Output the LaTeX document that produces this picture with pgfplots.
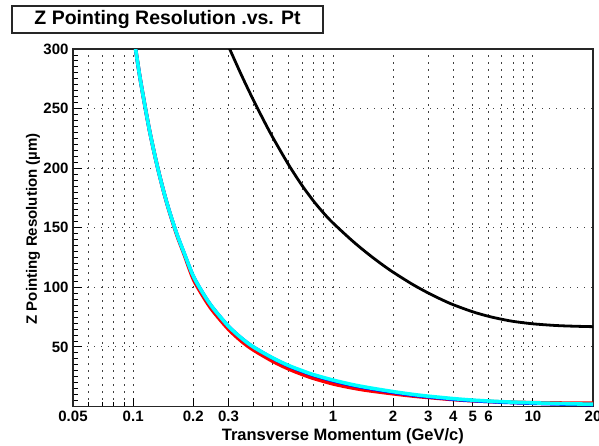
\documentclass[border=0pt]{standalone}
\usepackage{pgfplots}
\pgfplotsset{compat=1.18}
\usepackage{pgfplotstable}
\usepackage{fontspec}
\setmainfont{Liberation Sans}
\definecolor{rcyan}{RGB}{0,255,255}
\definecolor{rred}{RGB}{255,0,0}
\definecolor{rblue}{RGB}{0,0,255}

\pgfplotstableread{
x y
0.28 313.8
0.3 302.2
0.35 277.3
0.4 257.0
0.45 240.1
0.5 225.7
0.6 202.8
0.7 185.5
0.8 172.3
0.9 162.1
1 154
1.25 139
1.5 128
1.75 119.5
2 112.7
2.5 102.5
3 95.2
3.5 89.7
4 85.4
5 79.5
6 75.7
7 73.2
8 71.4
10 69.4
13 68.0
16 67.4
20 67.0
}\blackdata

\pgfplotstableread{
x y
0.095 342.4
0.1 314.2
0.105 289.9
0.11 268.8
0.12 233.9
0.13 206.6
0.14 184.6
0.15 166.3
0.165 144.5
0.18 127.6
0.2 106.9
0.225 91.8
0.25 80.4
0.3 64.8
0.35 54.5
0.4 47.4
0.5 37.9
0.6 31.5
0.7 27.0
0.8 23.6
1 19.0
1.25 15.6
1.5 13.4
2 10.7
2.5 8.82
3 7.59
4 5.86
5 4.87
7 3.84
10 3.22
15 2.87
20 2.86
}\reddata

\pgfplotstableread{
x y
0.095 342.4
0.1 314.2
0.105 289.9
0.11 268.8
0.12 233.9
0.13 206.6
0.14 184.6
0.15 166.7
0.165 145.3
0.18 128.7
0.2 109.4
0.225 94.3
0.25 83.0
0.3 67.3
0.35 57.1
0.4 49.9
0.5 40.5
0.6 34.0
0.7 29.6
0.8 26.2
1 21.6
1.25 17.8
1.5 15.3
2 11.9
2.5 9.6
3 8.1
4 6.1
5 4.9
7 3.6
10 2.7
15 1.9
20 1.5
}\bluedata

\pgfplotstableread{
x y
0.095 342.4
0.1 314.2
0.105 289.9
0.11 268.8
0.12 233.9
0.13 206.6
0.14 184.6
0.15 166.7
0.165 145.3
0.18 128.7
0.2 109.4
0.225 94.3
0.25 83.0
0.3 67.3
0.35 57.1
0.4 49.9
0.5 40.7
0.6 34.4
0.7 30.1
0.8 26.7
1 22.2
1.25 18.4
1.5 15.9
2 12.5
2.5 10.2
3 8.67
4 6.64
5 5.38
7 4.05
10 3.11
15 2.32
20 1.92
}\cyandata

\begin{document}
\begin{tikzpicture}
\begin{semilogxaxis}[
  scale only axis, width=520pt, height=357.5pt,
  xmin=0.05, xmax=20, ymin=0, ymax=300,
  clip mode=individual,
  axis line style={line width=1.3pt, black!85},
  xtick={0.05,0.1,0.2,0.3,1,2,3,4,5,6,10,20},
  xticklabels={0.05,0.1,0.2,0.3,1,2,3,4,5,6,10,20},
  minor xtick={0.06,0.07,0.08,0.09,0.4,0.5,0.6,0.7,0.8,0.9,7,8,9},
  ytick={50,100,150,200,250,300},
  minor ytick={5,10,...,295},
  tick align=inside,
  xtick pos=bottom, ytick pos=left,
  major tick length=9pt, minor tick length=5pt,
  every tick/.style={line width=0.9pt, black},
  xmajorgrids, xminorgrids, ymajorgrids,
  major grid style={black!75, line width=1pt, dash pattern=on 1.3pt off 5.7pt},
  minor grid style={black!75, line width=1pt, dash pattern=on 1.3pt off 5.7pt},
  /pgf/number format/assume math mode=true,
  ticklabel style={font=\bfseries\fontsize{15}{15}\selectfont},
  xticklabel style={yshift=-1pt},
  yticklabel style={xshift=-1pt},
  xlabel={Transverse Momentum (GeV/c)},
  ylabel={Z Pointing Resolution (\textmu m)},
  xlabel style={font=\bfseries\fontsize{16.5}{16.5}\selectfont, at={(rel axis cs:0.519,-0.083)}, anchor=center},
  ylabel style={font=\bfseries\fontsize{15}{15}\selectfont, at={(rel axis cs:-0.077,0.497)}, anchor=center, rotate=0},
]
\addplot[rred, line width=3.6pt, smooth] table[x=x, y=y] {\reddata};
\addplot[rblue, line width=3.4pt, smooth] table[x=x, y=y] {\bluedata};
\addplot[rcyan, line width=3.6pt, smooth] table[x=x, y=y] {\cyandata};
\addplot[black, line width=2.8pt, smooth] table[x=x, y=y] {\blackdata};

\draw[line width=1.4pt, black!85, fill=white] (rel axis cs:-0.1173,1.1203) rectangle (rel axis cs:0.4808,1.0448);
\node[font=\bfseries\fontsize{19.5}{19.5}\selectfont, anchor=center] at (rel axis cs:0.1818,1.0826) {Z Pointing Resolution .vs. Pt};
\coordinate (bbA) at (rel axis cs:-0.1404,-0.1077);
\coordinate (bbB) at (rel axis cs:1.0115,1.1371);
\end{semilogxaxis}
\pgfresetboundingbox
\path[use as bounding box] (bbA) rectangle (bbB);
\end{tikzpicture}
\end{document}
